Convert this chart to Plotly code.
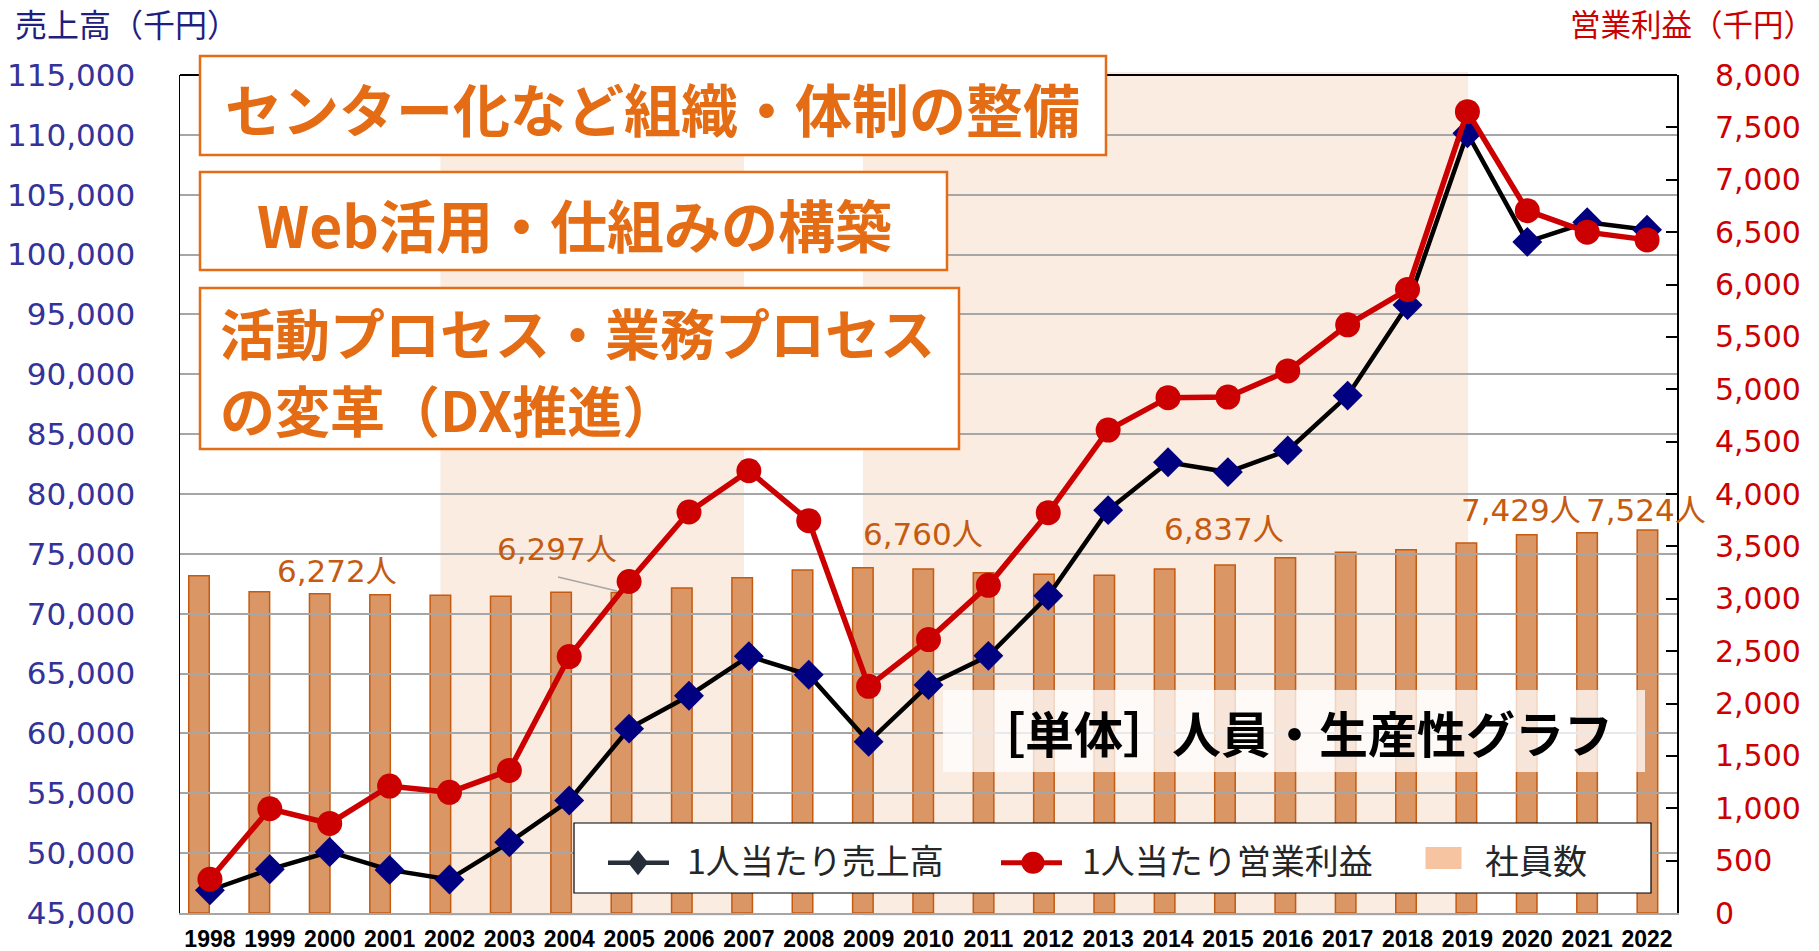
import plotly.graph_objects as go

# ---------------- data ----------------
years = list(range(1998, 2023))
year_labels = [str(y) for y in years]
sales_per_person = [46900, 48650, 50100, 48600, 47800, 50900, 54400, 60400, 63150, 66450,
                    64900, 59300, 64050, 66480, 71500, 78650, 82650, 81830, 83640, 88220,
                    95790, 110130, 101060, 102700, 102080]
profit_per_person = [322, 995, 855, 1212, 1152, 1361, 2448, 3165, 3828, 4222,
                     3745, 2164, 2610, 3128, 3822, 4610, 4920, 4925, 5175, 5615,
                     5952, 7650, 6705, 6500, 6426]
employees = [6627, 6312, 6272, 6253, 6242, 6222, 6301, 6297, 6385, 6588,
             6739, 6784, 6760, 6686, 6654, 6634, 6758, 6837, 6981, 7087,
             7138, 7269, 7429, 7472, 7524]
labeled_years = [2000, 2005, 2010, 2015, 2020, 2022]
periods = [(2002, 2007), (2009, 2019)]
initiatives = ["センター化など組織・体制の整備", "Web活用・仕組みの構築",
               "活動プロセス・業務プロセス", "の変革（DX推進）"]
chart_title = "［単体］人員・生産性グラフ"
left_title = "売上高（千円）"
right_title = "営業利益（千円）"
legend_names = ["1人当たり売上高", "1人当たり営業利益", "社員数"]

# ---------------- geometry helpers ----------------
W, H = 1819, 951
ML, MR, MT, MB = 180, 142, 75, 38
PW = W - ML - MR
PH = H - MT - MB


def px(xpage):
    return (xpage - ML) / PW


def py(ypage):
    return (H - MB - ypage) / PH


ORANGE = "#E46C14"
CJK = "Noto Sans CJK JP"
NUMF = "DejaVu Sans, Noto Sans CJK JP"

fig = go.Figure()

fig.add_trace(go.Bar(
    x=years, y=employees, xaxis="x", yaxis="y", width=0.34,
    marker=dict(color="#DA9664", line=dict(color="#C55A11", width=1.5)),
    name=legend_names[2], showlegend=False, hoverinfo="skip"))

fig.add_trace(go.Scatter(
    x=years, y=sales_per_person, xaxis="x2", yaxis="y2", mode="lines+markers",
    line=dict(color="black", width=4.5),
    marker=dict(symbol="diamond", size=23, color="#000080", line=dict(width=0)),
    name=legend_names[0], showlegend=False, hoverinfo="skip"))

fig.add_trace(go.Scatter(
    x=years, y=profit_per_person, xaxis="x2", yaxis="y3", mode="lines+markers",
    line=dict(color="#CC0000", width=5.5),
    marker=dict(symbol="circle", size=25, color="#CC0000", line=dict(width=0)),
    name=legend_names[1], showlegend=False, hoverinfo="skip"))

shapes = []
# shaded periods (on the bar axis)
for (a, b) in periods:
    shapes.append(dict(type="rect", xref="x", yref="paper", x0=a, x1=b + 0.03,
                       y0=py(916), y1=py(72), fillcolor="#FBECE1",
                       line=dict(width=0), layer="below"))
# top frame
shapes.append(dict(type="line", xref="paper", yref="paper", x0=0, x1=1, y0=1, y1=1,
                   line=dict(color="black", width=2), layer="above"))
# initiative boxes
for (x0, y0, x1, y1) in [(200, 56, 1106, 155), (200, 172, 947, 270), (200, 288, 959, 449)]:
    shapes.append(dict(type="rect", xref="paper", yref="paper",
                       x0=px(x0), x1=px(x1), y0=py(y1), y1=py(y0),
                       fillcolor="white", line=dict(color=ORANGE, width=2.5),
                       layer="above"))
# title box (semi transparent)
shapes.append(dict(type="rect", xref="paper", yref="paper",
                   x0=px(943), x1=px(1645), y0=py(772), y1=py(690),
                   fillcolor="rgba(255,255,255,0.75)", line=dict(width=0), layer="above"))
# leader line for 2005 label
shapes.append(dict(type="line", xref="paper", yref="paper",
                   x0=px(558), y0=py(577), x1=px(617), y1=py(591),
                   line=dict(color="#A6A6A6", width=1.5), layer="above"))
# legend box
shapes.append(dict(type="rect", xref="paper", yref="paper",
                   x0=px(574), x1=px(1651), y0=py(893), y1=py(823),
                   fillcolor="white", line=dict(color="black", width=1.2), layer="above"))
ly = 862.7
shapes.append(dict(type="line", xref="paper", yref="paper", x0=px(608), x1=px(669),
                   y0=py(ly), y1=py(ly), line=dict(color="#262F3A", width=4.5), layer="above"))
cx, hw, hh = 638, 10, 12.5
path = "M {},{} L {},{} L {},{} L {},{} Z".format(
    px(cx - hw), py(ly), px(cx), py(ly - hh), px(cx + hw), py(ly), px(cx), py(ly + hh))
shapes.append(dict(type="path", xref="paper", yref="paper", path=path,
                   fillcolor="#252D38", line=dict(width=0), layer="above"))
shapes.append(dict(type="line", xref="paper", yref="paper", x0=px(1001), x1=px(1062),
                   y0=py(ly), y1=py(ly), line=dict(color="#CC0000", width=5), layer="above"))
shapes.append(dict(type="circle", xref="paper", yref="paper",
                   x0=px(1033 - 11.5), x1=px(1033 + 11.5), y0=py(ly + 11), y1=py(ly - 11),
                   fillcolor="#CC0000", line=dict(width=0), layer="above"))
shapes.append(dict(type="rect", xref="paper", yref="paper",
                   x0=px(1425.5), x1=px(1461.5), y0=py(869), y1=py(847),
                   fillcolor="#F6C4A0", line=dict(width=0), layer="above"))

annotations = []


def ann(text, x, y, size, color, xanchor="center", bold=False, family=CJK):
    annotations.append(dict(text=("<b>%s</b>" % text) if bold else text,
                            xref="paper", yref="paper", x=px(x), y=py(y),
                            xanchor=xanchor, yanchor="middle", showarrow=False,
                            font=dict(family=family, size=size, color=color)))


ann(initiatives[0], 652, 106.5, 57, ORANGE, bold=True)
ann(initiatives[1], 574, 223, 57, ORANGE, bold=True)
ann(initiatives[2], 218, 330.5, 55, ORANGE, xanchor="left", bold=True)
ann(initiatives[3], 218, 408.5, 55, ORANGE, xanchor="left", bold=True)
ann(chart_title, 1294, 731.5, 49, "black", bold=True)
ann(left_title, 13, 22.5, 32, "#1F1F80", xanchor="left")
ann(right_title, 1568, 23, 30.5, "#CC0000", xanchor="left")
ann(legend_names[0], 685, 859, 34, "#262626", xanchor="left")
ann(legend_names[1], 1080, 859, 34, "#262626", xanchor="left")
ann(legend_names[2], 1483, 859, 34, "#262626", xanchor="left")

label_pos = {2000: (336.7, 570.5), 2005: (556.7, 549), 2010: (922.8, 534),
             2015: (1224, 529), 2020: (1520.8, 510), 2022: (1646, 510)}
for yr in labeled_years:
    v = employees[years.index(yr)]
    x, y = label_pos[yr]
    ann("{:,}人".format(v), x, y, 31, "#C55A11", family=NUMF)

fig.update_layout(
    width=W, height=H, autosize=False,
    margin=dict(l=ML, r=MR, t=MT, b=MB, pad=0, autoexpand=False),
    paper_bgcolor="white", plot_bgcolor="rgba(0,0,0,0)",
    showlegend=False, bargap=0,
    xaxis=dict(domain=[0, 1], range=[1997.685, 2022.49], visible=False, anchor="y",
               fixedrange=True, automargin=False),
    yaxis=dict(domain=[0, 1], range=[0, 16464], visible=False, anchor="x",
               fixedrange=True, automargin=False),
    xaxis2=dict(domain=[0, 1], anchor="y2", range=[1997.5, 2022.5],
                tickmode="array", tickvals=years, ticktext=year_labels,
                showgrid=False, zeroline=False, showline=True, linecolor="#A6A6A6",
                linewidth=2, ticks="", ticklabelstandoff=4, automargin=False,
                tickfont=dict(family="Liberation Sans, Arial", size=23, color="black",
                              weight="bold")),
    yaxis2=dict(domain=[0, 1], anchor="x2", range=[45000, 115000], tick0=45000,
                dtick=5000, tickformat=",d", showgrid=True, gridcolor="#A6A6A6",
                gridwidth=2, zeroline=False, showline=True, linecolor="black",
                linewidth=1.5, ticks="", ticklabelstandoff=37, automargin=False,
                tickfont=dict(family="DejaVu Sans", size=31, color="#33339A")),
    yaxis3=dict(overlaying="y2", anchor="x2", side="right", range=[0, 8000],
                tick0=0, dtick=500, tickformat=",d", showgrid=False, zeroline=False,
                showline=True, linecolor="black", linewidth=2, ticks="inside",
                ticklen=11, tickwidth=2, tickcolor="black", ticklabelstandoff=30,
                automargin=False,
                tickfont=dict(family="DejaVu Sans", size=30, color="#CC0000")),
    shapes=shapes, annotations=annotations,
)

fig.write_html("out.html",
               config={"displayModeBar": False, "staticPlot": True},
               post_script="document.body.style.margin='0px';"
                           "document.body.style.overflow='hidden';")
